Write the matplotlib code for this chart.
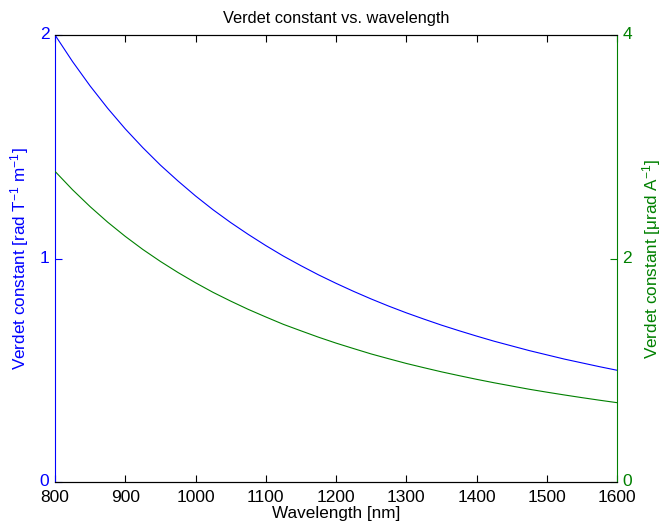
import matplotlib
matplotlib.use("Agg")
import matplotlib.pyplot as plt
import matplotlib.transforms as mtransforms

# values (every 25 nm)
wavelength = [800, 825, 850, 875, 900, 925, 950, 975, 1000, 1025, 1050,
              1075, 1100, 1125, 1150, 1175, 1200, 1225, 1250, 1275, 1300,
              1325, 1350, 1375, 1400, 1425, 1450, 1475, 1500, 1525, 1550,
              1575, 1600]
verdet_field = [2.000, 1.881, 1.772, 1.672, 1.580, 1.496, 1.418, 1.347, 1.280,
                1.218, 1.161, 1.108, 1.058, 1.011, 0.968, 0.927, 0.889, 0.853,
                0.819, 0.787, 0.757, 0.729, 0.702, 0.677, 0.653, 0.630, 0.609,
                0.588, 0.569, 0.550, 0.533, 0.516, 0.500]
verdet_current = [2.780, 2.615, 2.464, 2.325, 2.198, 2.081, 1.974, 1.875, 1.783,
                  1.697, 1.619, 1.545, 1.477, 1.411, 1.353, 1.296, 1.243, 1.194,
                  1.146, 1.103, 1.061, 1.023, 0.986, 0.952, 0.919, 0.888, 0.859,
                  0.830, 0.804, 0.779, 0.755, 0.732, 0.710]
x_ticks = [800, 900, 1000, 1100, 1200, 1300, 1400, 1500, 1600]
left_ticks = [0, 1, 2]
right_ticks = [0, 2, 4]

BLUE = (0, 0, 1)
GREEN = (0, 0.5, 0)

plt.rcParams['font.family'] = ['Liberation Sans', 'DejaVu Sans']
plt.rcParams['font.size'] = 12.3
plt.rcParams['mathtext.fontset'] = 'custom'
plt.rcParams['mathtext.rm'] = 'Liberation Sans'
plt.rcParams['mathtext.it'] = 'Liberation Sans'

fig = plt.figure(figsize=(6.65, 5.32), dpi=100)
ax = fig.add_axes([55 / 665, 50 / 532, 562 / 665, 447 / 532])
ax2 = ax.twinx()

ax.plot(wavelength, verdet_field, color=BLUE, lw=0.8)
ax2.plot(wavelength, verdet_current, color=GREEN, lw=0.8)

ax.set_xlim(800, 1600)
ax.set_ylim(0, 2)
ax2.set_ylim(0, 4)
ax.set_xticks(x_ticks)
ax.set_yticks(left_ticks)
ax2.set_yticks(right_ticks)

ax.tick_params(axis='x', direction='in', length=5, top=True, pad=5.5,
               colors='black', labelsize=12.5)
ax.tick_params(axis='y', direction='in', length=5, colors=BLUE, pad=4,
               labelsize=12.5)
ax2.tick_params(axis='y', direction='in', length=5, colors=GREEN, pad=4,
                labelsize=12.5)

# nudge the y tick labels up a touch so the corner "0"s clear the x labels
shift = mtransforms.ScaledTranslation(0, 1.2 / 72, fig.dpi_scale_trans)
for lbl in ax.get_yticklabels() + ax2.get_yticklabels():
    lbl.set_transform(lbl.get_transform() + shift)

ax.spines['left'].set_color(BLUE)
ax2.spines['left'].set_visible(False)
ax.spines['right'].set_visible(False)
ax2.spines['right'].set_color(GREEN)
for sp in list(ax.spines.values()) + list(ax2.spines.values()):
    sp.set_linewidth(0.8)

ax.set_xlabel('Wavelength [nm]', labelpad=1)
ax.set_ylabel(r'Verdet constant [rad T$^{-1}$ m$^{-1}$]', color=BLUE, labelpad=6)
ax2.set_ylabel(r'Verdet constant [$\mu$rad A$^{-1}$]', color=GREEN, labelpad=6)
ax.set_title('Verdet constant vs. wavelength', fontsize=11.8, pad=9)

fig.savefig('out.png', dpi=100)
